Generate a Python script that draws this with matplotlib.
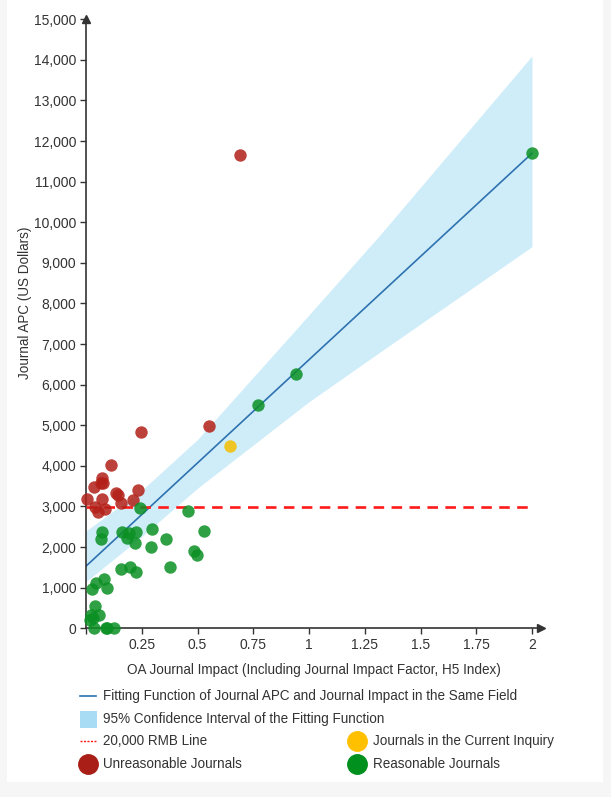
import numpy as np
import matplotlib
matplotlib.use("Agg")
import matplotlib.pyplot as plt
from matplotlib.patches import Rectangle
from matplotlib.ticker import FuncFormatter

plt.rcParams['font.family'] = ['Liberation Sans', 'DejaVu Sans']

# journals above the fitted band (unreasonable)
red_x = [0.006, 0.036, 0.042, 0.054, 0.066, 0.072, 0.072, 0.076, 0.084,
         0.114, 0.136, 0.143, 0.155, 0.211, 0.233, 0.245, 0.553, 0.69]
red_y = [3180, 3490, 2980, 2870, 3570, 3180, 3700, 3590, 2930,
         4010, 3330, 3280, 3090, 3160, 3410, 4830, 4990, 11650]

# reasonable journals
green_x = [0.241, 0.457, 0.072, 0.066, 0.161, 0.191, 0.226, 0.185, 0.221,
           0.296, 0.293, 0.36, 0.158, 0.199, 0.226, 0.375, 0.081, 0.046,
           0.095, 0.027, 0.039, 0.057, 0.022, 0.02, 0.03, 0.036, 0.088,
           0.094, 0.126, 0.484, 0.496, 0.53, 0.77, 0.94, 2.0]
green_y = [2955, 2880, 2380, 2190, 2380, 2355, 2380, 2220, 2110,
           2440, 2000, 2190, 1450, 1500, 1390, 1500, 1210, 1110,
           1000, 960, 550, 330, 330, 200, 250, 0, 0,
           0, 0, 1910, 1800, 2400, 5500, 6270, 11700]

# journal in the current inquiry
yellow_x = [0.646]
yellow_y = [4500]

# fitted line and its 95% band
fit_x = [0, 2]
fit_y = [1530, 11700]
ci_x = [0, 0.25, 0.5, 1, 1.32, 2]
ci_lo = [1150, 2260, 3450, 5580, 6810, 9400]
ci_hi = [2400, 3400, 4650, 7720, 9700, 14100]

rmb_line = 2980
x_ticks = [0, 0.25, 0.5, 0.75, 1, 1.25, 1.5, 1.75, 2]
x_ticklabels = ['', '0.25', '0.5', '0.75', '1', '1.25', '1.5', '1.75', '2']
y_ticks = list(range(0, 15001, 1000))

W, H = 611, 797
fig = plt.figure(figsize=(W / 100, H / 100), dpi=100)
fig.patch.set_facecolor('#f6f6f6')
fig.add_artist(Rectangle((7 / W, 1 - 782 / H), (603 - 7) / W, 782 / H,
                         transform=fig.transFigure, facecolor='white',
                         edgecolor='none', zorder=-1))

ax = fig.add_axes([86 / W, 1 - 628.3 / H, 2.04 * 223 / W, 609 / H])
ax.set_facecolor('none')

ax.fill_between(ci_x, ci_lo, ci_hi, color='#87d3f0', alpha=0.4, lw=0, zorder=1)
ax.plot(fit_x, fit_y, color='#2e72b0', lw=1.2, zorder=2)
ax.plot([0, 1.98], [rmb_line, rmb_line], color='#ff1a1a', lw=1.9,
        dashes=(4, 2.8), zorder=3)

ax.scatter(red_x, red_y, s=80, color='#b22018', alpha=0.85, lw=0,
           zorder=4, clip_on=False)
ax.scatter(green_x, green_y, s=80, color='#0b9024', alpha=0.85, lw=0,
           zorder=4, clip_on=False)
ax.scatter(yellow_x, yellow_y, s=80, color='#f5bd00', alpha=0.85, lw=0,
           zorder=4, clip_on=False)

ax.set_xlim(0, 2.04)
ax.set_ylim(0, 15000)
for s in ['top', 'right']:
    ax.spines[s].set_visible(False)
for s in ['left', 'bottom']:
    ax.spines[s].set_color('#333333')
    ax.spines[s].set_linewidth(1.2)
ax.plot(1, 0, '>', color='#333333', ms=6, transform=ax.transAxes, clip_on=False)
ax.plot(0, 1, '^', color='#333333', ms=6, transform=ax.transAxes, clip_on=False)

ax.set_xticks(x_ticks)
ax.set_xticklabels(x_ticklabels)
ax.set_yticks(y_ticks)
ax.yaxis.set_major_formatter(FuncFormatter(lambda v, p: f'{int(v):,}'))
ax.tick_params(direction='out', length=4, width=1, color='#333333',
               labelcolor='#333333', labelsize=10, pad=3)

ax.set_xlabel('OA Journal Impact (Including Journal Impact Factor, H5 Index)',
              fontsize=9.75, color='#333333', labelpad=8)
ax.set_ylabel('Journal APC (US Dollars)', fontsize=9.75, color='#333333')
ax.yaxis.set_label_coords(-0.118, 0.535)

# legend drawn in pixel space
lax = fig.add_axes([0, 0, 1, 1])
lax.set_xlim(0, W)
lax.set_ylim(H, 0)
lax.axis('off')
lax.patch.set_alpha(0)

txt = dict(fontsize=9.75, color='#333333', va='center', ha='left')
lax.plot([80, 96], [696, 696], color='#2e72b0', lw=1.2)
lax.text(103, 696, 'Fitting Function of Journal APC and Journal Impact in the Same Field', **txt)
lax.add_patch(Rectangle((80, 711), 17, 17, facecolor='#a8dcf5', edgecolor='none'))
lax.text(103, 719, '95% Confidence Interval of the Fitting Function', **txt)
lax.plot([80, 96], [741, 741], color='#ff1a1a', lw=1, ls=(0, (1.5, 1)))
lax.text(103, 741, '20,000 RMB Line', **txt)
lax.plot([87.5], [764], 'o', color='#a91f17', ms=14)
lax.text(103, 764, 'Unreasonable Journals', **txt)
lax.plot([357], [741], 'o', color='#ffc000', ms=14)
lax.text(373, 741, 'Journals in the Current Inquiry', **txt)
lax.plot([357], [764], 'o', color='#00901e', ms=14)
lax.text(373, 764, 'Reasonable Journals', **txt)

fig.savefig('out.png', dpi=100)
